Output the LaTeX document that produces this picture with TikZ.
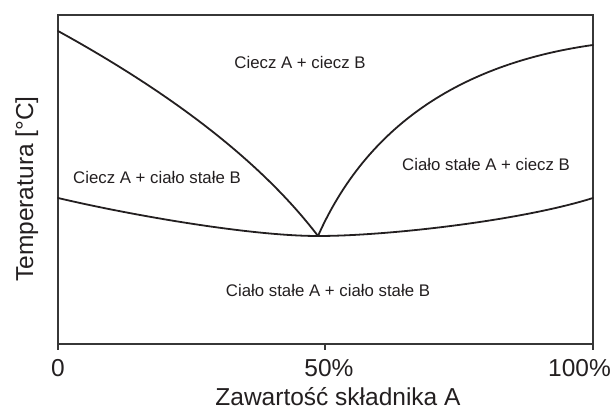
\documentclass[tikz,border=0pt]{standalone}
\usepackage{fontspec}
\setmainfont{Liberation Sans}
\usepackage{xcolor}
\usepackage{tikz}
\usetikzlibrary{positioning, calc}
\definecolor{mydark}{RGB}{35,31,32}
\definecolor{myframe}{RGB}{55,55,55}
\tikzset{
  region/.style={inner sep=0pt, anchor=base, text=mydark,
    font=\fontsize{16.8}{20}\selectfont},
  axlabel/.style={inner sep=0pt, anchor=base, text=mydark,
    font=\fontsize{24.5}{29}\selectfont},
  frameline/.style={line width=1.7pt, color=myframe},
  phaseline/.style={line width=1.8pt, color=mydark, line cap=round},
  axtick/.style={line width=1.7pt, color=myframe}
}

\begin{document}
\begin{tikzpicture}[x=1pt, y=1pt]
  \useasboundingbox (0,0) rectangle (613,411);

  % frame and key points
  \coordinate (bl) at (58,67);
  \coordinate (tr) at (593,396);
  \coordinate (liqA) at (58,380);
  \coordinate (liqB) at (593,366);
  \coordinate (eut) at (318,175);
  \coordinate (solA) at (58,213);
  \coordinate (solB) at (593,213);

  \draw[frameline] (bl) rectangle (tr);

  % ticks
  \coordinate (t0) at (58,67);
  \coordinate (t50) at (325,67);
  \coordinate (t100) at (593,67);
  \foreach \t in {t0, t50, t100}
    \draw[axtick] (\t) -- ++(0,-6);

  % phase lines
  \draw[phaseline] (liqA) .. controls (176,315) and (263,247) .. (eut);
  \draw[phaseline] (eut) .. controls (366,283) and (458,347) .. (liqB);
  \draw[phaseline] (solA) .. controls (130,196) and (250,175) .. (eut)
    .. controls (386,175) and (520,190) .. (solB);

  % region labels
  \node[region] (liqliq) at (300,342) {Ciecz A + ciecz B};
  \node[region] (liqsol) at (157,227) {Ciecz A + ciało stałe B};
  \node[region] (solliq) at (486,240) {Ciało stałe A + ciecz B};
  \node[region] (solsol) at (328,114) {Ciało stałe A + ciało stałe B};

  % axis labels
  \node[axlabel] (lab0) at (58,34) {0};
  \node[axlabel] (lab50) at (329,34) {50\%};
  \node[axlabel, anchor=base east] (lab100) at (611,34) {100\%};
  \node[axlabel] (xlab) at (338,5) {Zawartość składnika A};
  \node[axlabel, rotate=90] (ylab) at (33,222) {Temperatura [°C]};
\end{tikzpicture}
\end{document}
